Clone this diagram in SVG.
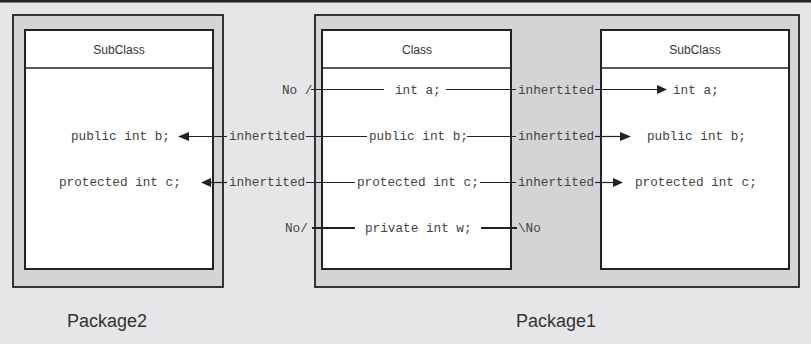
<svg xmlns="http://www.w3.org/2000/svg" width="811" height="344" viewBox="0 0 811 344">
<style>
.pkg{fill:#d4d4d6;stroke:#222;stroke-width:1.8}
.cls{fill:#fff;stroke:#222;stroke-width:2}
.div{stroke:#222;stroke-width:1.3}
.hdr{font-family:"Liberation Sans",Arial,sans-serif;font-size:12px;fill:#333;text-anchor:middle}
.pl{font-family:"Liberation Sans",Arial,sans-serif;font-size:18px;fill:#333}
.m{font-family:"Liberation Mono","Courier New",monospace;font-size:12.7px;fill:#444}
.ln{stroke:#222;stroke-width:1.2;fill:none}
.thk{stroke:#222;stroke-width:2;fill:none}
.ah{fill:#222}
</style>
<rect x="0" y="0" width="811" height="344" fill="#e6e6e8"/>
<rect x="0" y="0" width="811" height="2.5" fill="#222"/>
<g id="package2">
<rect class="pkg" x="13" y="15" width="210" height="272"/>
<text class="pl" x="67" y="327" textLength="80">Package2</text>
</g>
<g id="package1">
<rect class="pkg" x="315" y="15" width="484" height="272"/>
<text class="pl" x="516" y="327" textLength="80">Package1</text>
</g>
<g id="subclass-left">
<rect class="cls" x="25" y="30" width="188" height="239"/>
<line class="div" x1="25" y1="68" x2="213" y2="68"/>
<text class="hdr" x="119" y="54">SubClass</text>
<text class="m" x="71" y="140">public int b;</text>
<text class="m" x="59" y="186">protected int c;</text>
</g>
<g id="class">
<rect class="cls" x="322" y="30" width="189" height="239"/>
<line class="div" x1="322" y1="68" x2="511" y2="68"/>
<text class="hdr" x="417" y="54">Class</text>
<text class="m" x="395" y="94">int a;</text>
<text class="m" x="369" y="140">public int b;</text>
<text class="m" x="357" y="186">protected int c;</text>
<text class="m" x="365" y="232">private int w;</text>
</g>
<g id="subclass-right">
<rect class="cls" x="601" y="30" width="188" height="239"/>
<line class="div" x1="601" y1="68" x2="789" y2="68"/>
<text class="hdr" x="695" y="54">SubClass</text>
<text class="m" x="673" y="94">int a;</text>
<text class="m" x="647" y="140">public int b;</text>
<text class="m" x="635" y="186">protected int c;</text>
</g>
<g id="connectors">
<text class="m" x="282" y="94">No /</text>
<line class="ln" x1="311" y1="89.5" x2="384" y2="89.5"/>
<line class="ln" x1="446" y1="89.5" x2="516" y2="89.5"/>
<text class="m" x="518" y="94">inhertited</text>
<line class="ln" x1="595" y1="89.5" x2="660" y2="89.5"/>
<polygon class="ah" points="667,89.5 657,85 657,94"/>
<polygon class="ah" points="178,136.5 189,132 189,141"/>
<line class="ln" x1="188" y1="136.5" x2="227" y2="136.5"/>
<text class="m" x="229" y="140">inhertited</text>
<line class="ln" x1="306" y1="136.5" x2="367" y2="136.5"/>
<line class="ln" x1="467" y1="136.5" x2="516" y2="136.5"/>
<text class="m" x="518" y="140">inhertited</text>
<line class="ln" x1="595" y1="136.5" x2="623" y2="136.5"/>
<polygon class="ah" points="631,136.5 620,132 620,141"/>
<polygon class="ah" points="201,182.5 211,178 211,187"/>
<line class="ln" x1="210" y1="182.5" x2="227" y2="182.5"/>
<text class="m" x="229" y="186">inhertited</text>
<line class="ln" x1="306" y1="182.5" x2="355" y2="182.5"/>
<line class="ln" x1="480" y1="182.5" x2="516" y2="182.5"/>
<text class="m" x="518" y="186">inhertited</text>
<line class="ln" x1="595" y1="182.5" x2="616" y2="182.5"/>
<polygon class="ah" points="623,182.5 613,178 613,187"/>
<text class="m" x="285" y="232">No/</text>
<line class="thk" x1="312" y1="228" x2="355" y2="228"/>
<line class="thk" x1="481" y1="228" x2="517" y2="228"/>
<text class="m" x="518" y="232">\No</text>
</g>
</svg>
